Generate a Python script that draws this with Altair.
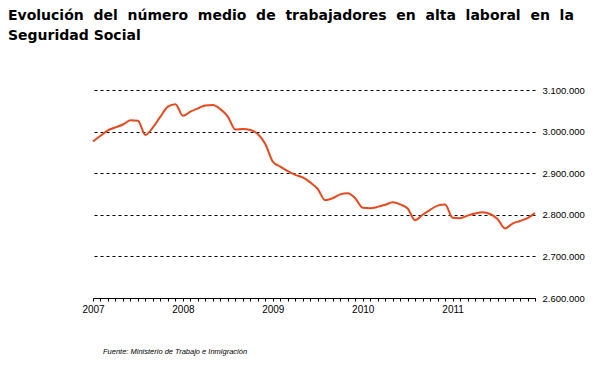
import altair as alt
import pandas as pd

years = [2007, 2008, 2009, 2010, 2011]
months = [f"{y}-{m:02d}" for y in years for m in range(1, 13)]

workers = [
    2976000, 2990000, 3003000, 3010000, 3017000, 3027000, 3026000, 2992000, 3010000, 3036000, 3060000, 3066000,
    3038000, 3048000, 3056000, 3063000, 3064000, 3054000, 3036000, 3005000, 3006000, 3004000, 2994000, 2970000,
    2928000, 2916000, 2905000, 2896000, 2890000, 2878000, 2862000, 2835000, 2840000, 2849000, 2852000, 2840000,
    2817000, 2816000, 2819000, 2824000, 2830000, 2825000, 2815000, 2787000, 2800000, 2812000, 2822000, 2825000,
    2793000, 2792000, 2798000, 2803000, 2806000, 2802000, 2790000, 2767000, 2779000, 2785000, 2792000, 2804000,
]

y_ticks = [2600000, 2700000, 2800000, 2900000, 3000000, 3100000]

title_words = ["Evolución", "del", "número", "medio", "de", "trabajadores", "en", "alta", "laboral", "en", "la"]
title_line2 = "Seguridad Social"
source_note = "Fuente: Ministerio de Trabajo e Inmigración"

# justified first line: widen word gaps with non-breaking spaces
gap = " \u00a0"
title_lines = [gap.join(title_words), title_line2]

df = pd.DataFrame({"mes": months, "trabajadores": workers})
note_df = pd.DataFrame({"t": [source_note]})

line = alt.Chart(df).mark_line(color="#E9481C", strokeWidth=2, interpolate="monotone").encode(
    x=alt.X(
        "mes:O",
        sort=None,
        scale=alt.Scale(type="point", padding=0),
        axis=alt.Axis(
            title=None,
            labelAngle=0,
            labelExpr="slice(datum.value, 5, 7) == '01' ? slice(datum.value, 0, 4) : ''",
            labelOverlap=False,
            labelFlush=False,
            labelFont="Liberation Sans",
            labelFontSize=10,
            labelColor="black",
            labelPadding=3,
            tickColor="black",
            tickSize=3,
            domainColor="black",
            domainWidth=1,
            grid=False,
        ),
    ),
    y=alt.Y(
        "trabajadores:Q",
        scale=alt.Scale(domain=[2600000, 3100000], nice=False, zero=False),
        axis=alt.Axis(
            title=None,
            orient="right",
            values=y_ticks,
            labelExpr="replace(format(datum.value, ',d'), /,/g, '.')",
            labelFont="Liberation Sans",
            labelFontSize=9.5,
            labelColor="black",
            labelPadding=7,
            ticks=False,
            domain=False,
            grid=True,
            gridColor="black",
            gridDash=[3, 3],
            gridWidth=1,
        ),
    ),
)

note = alt.Chart(note_df).mark_text(
    align="left", baseline="middle", font="Liberation Sans", fontSize=7.5, fontStyle="italic", color="black"
).encode(x=alt.value(10), y=alt.value(262), text="t:N")

chart = alt.layer(line, note).properties(
    width=442,
    height=208,
    autosize=alt.AutoSizeParams(type="none"),
    padding={"left": 85, "top": 82, "right": 61, "bottom": 60},
    title=alt.TitleParams(
        text=title_lines,
        anchor="start",
        frame="group",
        dx=-85,
        dy=0,
        font="DejaVu Sans",
        fontSize=14,
        fontWeight="bold",
        color="black",
        lineHeight=20,
        offset=42,
    ),
).configure_view(stroke=None)

chart.save("out.html", embed_options={"renderer": "svg", "actions": False})
